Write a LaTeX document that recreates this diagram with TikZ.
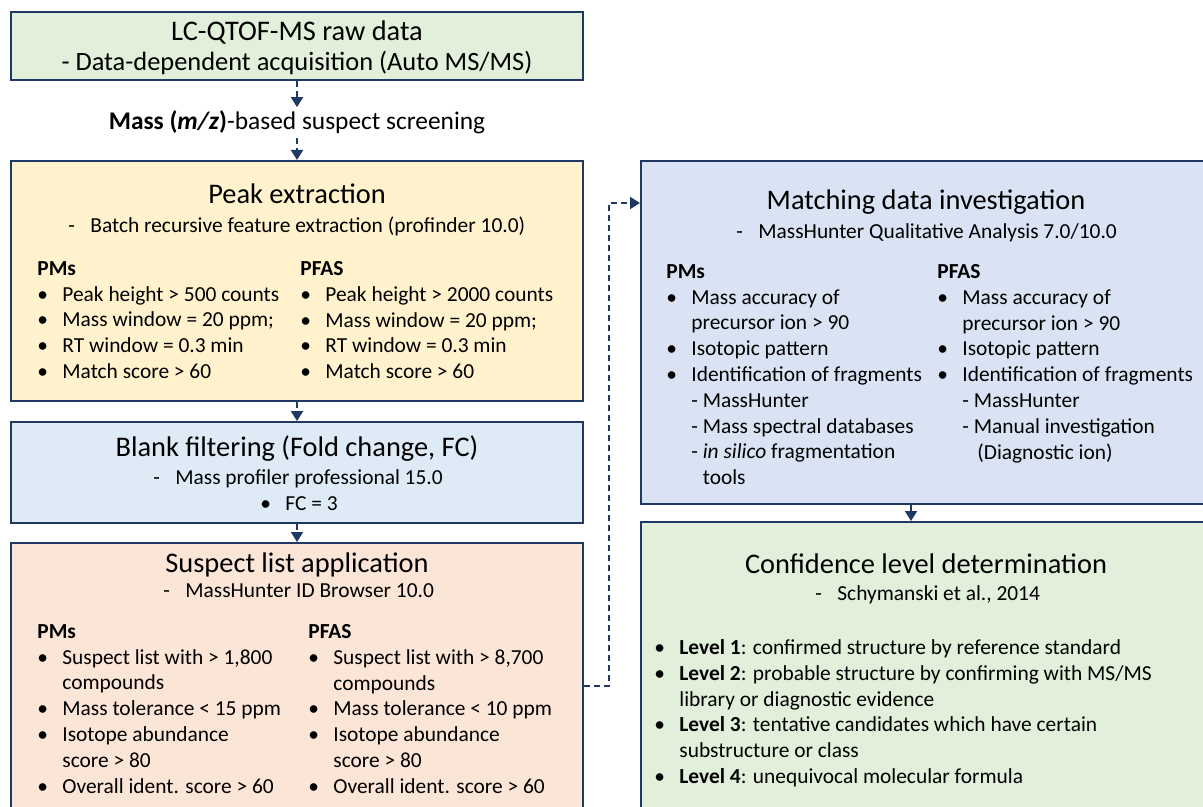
\documentclass[tikz,border=0pt]{standalone}
\usepackage{fontspec}
\setmainfont{Carlito}
\usetikzlibrary{arrows.meta}

\definecolor{navy}{HTML}{1F3864}
\definecolor{rawgreen}{HTML}{E2EFDA}
\definecolor{pkyellow}{HTML}{FFF2CC}
\definecolor{blkblue}{HTML}{DEEBF7}
\definecolor{slsalmon}{HTML}{FBE5D6}
\definecolor{mdiblue}{HTML}{DAE3F3}

\newcommand{\bul}{\makebox[12.5pt][l]{\textbullet}}
\newcommand{\ind}{\hspace*{12.5pt}}
\newcommand{\dsh}{\makebox[11pt][l]{-}}
\newcommand{\ttlfont}{\fontsize{14.2}{17}\selectfont}
\newcommand{\midfont}{\fontsize{12.7}{15}\selectfont}
\newcommand{\txtfont}{\fontsize{10.7}{12.9}\selectfont}

\tikzset{
  box/.style={draw=navy, line width=1pt, rectangle, inner sep=0pt},
  conn/.style={draw=navy, line width=1pt, dash pattern=on 3pt off 2pt, -{Triangle[length=5pt,width=6pt]}},
  ttl/.style={anchor=base, inner sep=0pt, font=\ttlfont},
  subtxt/.style={anchor=base west, inner sep=0pt, font=\txtfont},
  lst/.style={anchor=north west, inner sep=0pt, align=left, font=\txtfont},
}

\begin{document}
\begin{tikzpicture}[x=0.5pt, y=-0.5pt]
\useasboundingbox (0,0) rectangle (1203,807);

% boxes
\node[box, fill=rawgreen, minimum width=286pt, minimum height=34pt] (raw) at (297,46) {};
\node[box, fill=pkyellow, minimum width=286pt, minimum height=120pt] (pk) at (297,281) {};
\node[box, fill=blkblue, minimum width=286pt, minimum height=50.5pt] (blk) at (297,472.5) {};
\node[box, fill=slsalmon, minimum width=286pt, minimum height=143pt] (sla) at (297,686) {};
\node[box, fill=mdiblue, minimum width=285pt, minimum height=171.5pt] (mdi) at (926,332.5) {};
\node[box, fill=rawgreen, minimum width=285pt, minimum height=154pt] (cld) at (926,676) {};

% raw data
\node[ttl] (rawttl) at (297,41) {LC-QTOF-MS raw data};
\node[ttl, font=\fontsize{13.2}{15}\selectfont] (rawsub) at (297,71) {- Data-dependent acquisition (Auto MS/MS)};
\node[ttl, font=\midfont, outer sep=2pt] (scr) at (297,130) {\textbf{Mass (\textit{m/z})}-based suspect screening};

% peak extraction
\node[ttl] (pkttl) at (297,204) {Peak extraction};
\node[subtxt] (pksub) at (68,233) {\dsh Batch recursive feature extraction (profinder 10.0)};
\node[lst] (pkpm) at (37,261) {\textbf{PMs}\\
  \bul Peak height > 500 counts\\
  \bul Mass window = 20 ppm;\\
  \bul RT window = 0.3 min\\
  \bul Match score > 60};
\node[lst] (pkpf) at (300,261) {\textbf{PFAS}\\
  \bul Peak height > 2000 counts\\
  \bul Mass window = 20 ppm;\\
  \bul RT window = 0.3 min\\
  \bul Match score > 60};

% blank filtering
\node[ttl] (blkttl) at (297,456) {Blank filtering (Fold change, FC)};
\node[subtxt] (blksub) at (153,484) {\dsh Mass profiler professional 15.0};
\node[subtxt] (blkfc) at (260,510) {\bul FC = 3};

% suspect list
\node[ttl] (slattl) at (297,572) {Suspect list application};
\node[subtxt] (slasub) at (163,597) {\dsh MassHunter ID Browser 10.0};
\node[lst] (slapm) at (37,624) {\textbf{PMs}\\
  \bul Suspect list with > 1,800\\
  \ind compounds\\
  \bul Mass tolerance < 15 ppm\\
  \bul Isotope abundance\\
  \ind score > 80\\
  \bul Overall ident. score > 60};
\node[lst] (slapf) at (308,624) {\textbf{PFAS}\\
  \bul Suspect list with > 8,700\\
  \ind compounds\\
  \bul Mass tolerance < 10 ppm\\
  \bul Isotope abundance\\
  \ind score > 80\\
  \bul Overall ident. score > 60};

% matching data
\node[ttl] (mdittl) at (926,210) {Matching data investigation};
\node[subtxt] (mdisub) at (736,239) {\dsh MassHunter Qualitative Analysis 7.0/10.0};
\node[lst] (mdipm) at (666,264) {\textbf{PMs}\\
  \bul Mass accuracy of\\
  \ind precursor ion > 90\\
  \bul Isotopic pattern\\
  \bul Identification of fragments\\
  \ind - MassHunter\\
  \ind - Mass spectral databases\\
  \ind - \textit{in silico} fragmentation\\
  \ind \hphantom{- }tools};
\node[lst] (mdipf) at (937,264) {\textbf{PFAS}\\
  \bul Mass accuracy of\\
  \ind precursor ion > 90\\
  \bul Isotopic pattern\\
  \bul Identification of fragments\\
  \ind - MassHunter\\
  \ind - Manual investigation\\
  \ind \hphantom{- }\,(Diagnostic ion)};

% confidence level
\node[ttl] (cldttl) at (926,573) {Confidence level determination};
\node[subtxt] (cldsub) at (815,600) {\dsh Schymanski et al., 2014};
\node[lst] (cldlv) at (654,639) {\bul \textbf{Level 1}: confirmed structure by reference standard\\
  \bul \textbf{Level 2}: probable structure by confirming with MS/MS\\
  \ind library or diagnostic evidence\\
  \bul \textbf{Level 3}: tentative candidates which have certain\\
  \ind substructure or class\\
  \bul \textbf{Level 4}: unequivocal molecular formula};

% connectors
\draw[conn] (raw.south) -- (scr.north);
\draw[conn] (scr.south) -- (pk.north);
\draw[conn] (pk.south) -- (blk.north);
\draw[conn] (blk.south) -- (sla.north);
\coordinate (bend) at (609,203);
\draw[conn] (sla.east) -| (bend) -- (bend -| mdi.west);
\coordinate (mid) at (911,513);
\draw[conn] (mdi.south -| mid) -- (cld.north -| mid);

\end{tikzpicture}
\end{document}
